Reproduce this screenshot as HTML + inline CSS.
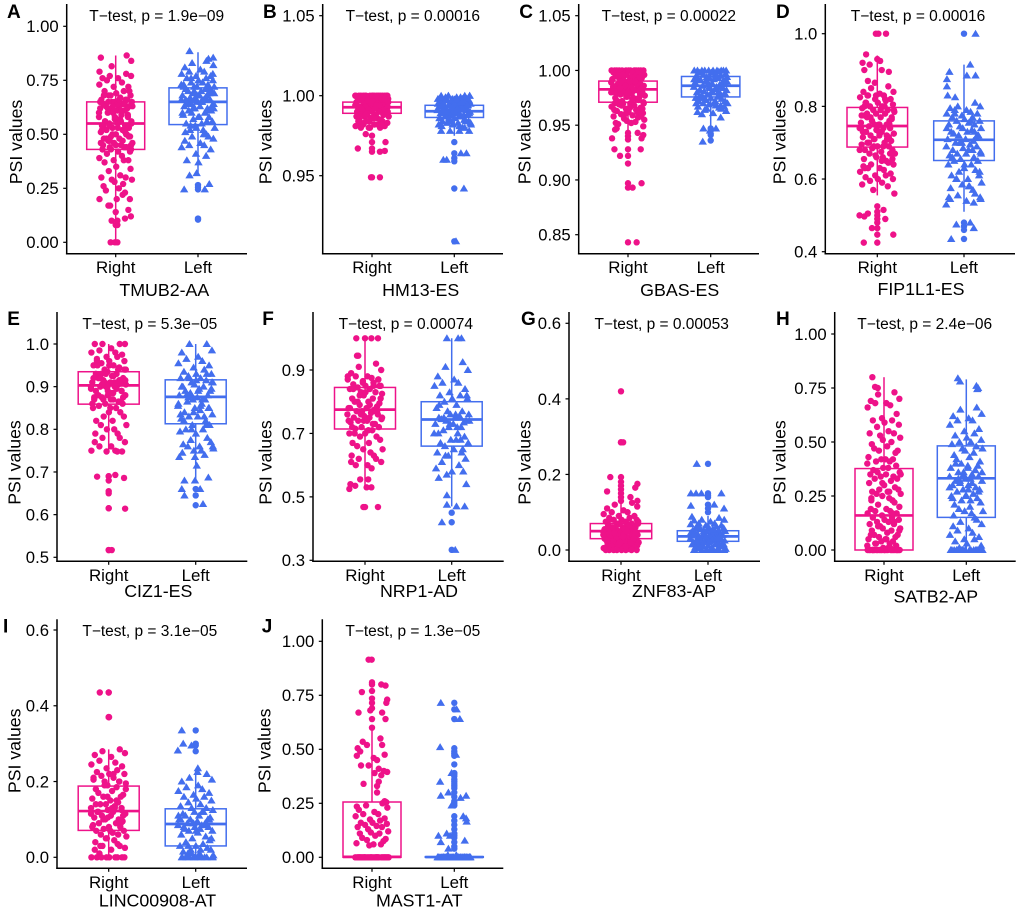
<!DOCTYPE html>
<html lang="en">
<head>
<meta charset="utf-8">
<title>PSI values by side</title>
<style>
html,body{margin:0;padding:0;background:#fff;}
#chart{display:block;width:1020px;height:911px;font-family:"Liberation Sans",sans-serif;}
</style>
</head>
<body>
<svg id="chart" xmlns="http://www.w3.org/2000/svg" width="1020" height="911" viewBox="0 0 1020 911"></svg>
<script>
const categories=['Right','Left'];
const jitterSeq=[.62,-.35,.91,-.78,.14,-.52,.37,-.97,.75,-.12,.48,-.66,.03,.88,-.41,.27,-.85,.59,-.23,.96,-.07,.44,-.72,.19,-.58,.81,-.30,.68,-.92,.09,.53,-.16,-.47,.34,-.99,.72,-.05,.25,-.63,.93,-.38,.12,-.81,.56,-.19,.78,-.55,.41,-.88,.01,.65,-.28,.85,-.70,.22,-.44,.99,-.10,.31,-.75,.50];

const A_ticks=['0.00','0.25','0.50','0.75','1.00'];
const A_right_box=[0,.43,.55,.65,.865];
const A_left_box=[.32,.545,.65,.715,.88];
const A_right_values=[.78,.77,.77,.76,.76,.75,.74,.73,.72,.72,.70,.70,.69,.68,.68,.67,.66,.66,.65,.65,.65,.64,.64,.63,.63,.63,.62,.62,.62,.61,.61,.60,.60,.59,.58,.58,.57,.57,.56,.56,.55,.55,.54,.54,.53,.53,.52,.52,.51,.50,.50,.49,.49,.48,.48,.47,.46,.46,.45,.45,.44,.44,.44,.43,.43,.42,.41,.40,.39,.38,.38,.38,.37,.35,.34,.33,.31,.30,.30,.29,.29,.28,.27,.26,.25,.24,.70,.68,.66,.65,.64,.64,.63,.62,.61,.60,.59,.58,.57,.56,.55,.54,.53,.52,.51,.50,.49,.48,.47,.46,.45,.44,.43,.42,.68,.66,.65,.63,.61,.56,.54,.52,.50,.47,.45,.43];
const A_right_pinned=[[-.88,.855],[.65,.865],[.92,.84],[-.96,.79],[-.24,.815],[-.96,.2],[.06,.2],[.41,.22],[.55,.23],[.84,.2],[-.33,.17],[-.43,.17],[.75,.15],[0,.14],[.9,.12],[.55,.11],[-.24,.1],[.1,.1],[0,.08],[.1,.08],[-.3,0],[-.04,0],[.1,0]];
const A_right_outliers=[];
const A_left_values=[.85,.83,.82,.81,.80,.79,.79,.78,.77,.77,.76,.76,.75,.75,.74,.74,.73,.73,.72,.72,.72,.71,.71,.70,.70,.70,.69,.69,.68,.68,.68,.67,.67,.66,.66,.66,.65,.65,.65,.64,.64,.63,.63,.62,.62,.61,.61,.60,.59,.58,.58,.57,.56,.55,.55,.54,.53,.53,.52,.51,.50,.49,.49,.48,.47,.46,.45,.45,.44,.43,.41,.40,.38,.37,.78,.76,.74,.72,.71,.70,.69,.68,.67,.66,.65,.64,.63,.62,.61,.60,.58,.56,.54,.52,.50,.73,.70,.68,.66,.64,.62,.60];
const A_left_pinned=[[-.5,.885],[.9,.855],[.5,.84],[-.82,.245],[-.5,.31],[.67,.27],[.4,.245],[-.08,.32]];
const A_left_outliers=[.265,.255,.245,.11,.105];

const B_ticks=['0.95','1.00','1.05'];
const B_right_box=[.98,.989,.9928,.996,1];
const B_left_box=[.975,.9864,.9903,.994,1];
const B_right_values=[1,1,1,1,1,1,1,1,1,1,1,1,1,1,.999,.999,.999,.999,.998,.998,.998,.998,.997,.997,.997,.997,.996,.996,.996,.996,.995,.995,.995,.995,.994,.994,.994,.993,.993,.993,.993,.992,.992,.992,.991,.991,.991,.99,.99,.99,.989,.989,.989,.988,.988,.987,.987,.986,.986,.985,.985,.984,.984,.983,.983,.982,.982,.982,.981,.981,.98,.98,.98,1,1,1,1,.999,.998,.997,.996,.995,.994,.993,.992,.991,.99,.989,.988,.987,.986,.985,.984,.983,.982,1,.998,.996,.994,.992,.99,.988,.986,.984,.982,.98];
const B_right_pinned=[[-.37,.976],[0,.975],[0,.971],[.8,.971],[-.84,.967],[0,.967],[0,.965],[.47,.965],[.76,.9655],[0,.949],[-.06,.949],[.47,.949]];
const B_right_outliers=[];
const B_left_values=[1,1,1,1,.999,.999,.999,.998,.998,.998,.998,.997,.997,.997,.997,.996,.996,.996,.996,.995,.995,.995,.995,.994,.994,.994,.994,.993,.993,.993,.992,.992,.992,.992,.991,.991,.991,.99,.99,.99,.989,.989,.989,.988,.988,.988,.987,.987,.986,.986,.985,.985,.984,.984,.983,.983,.982,.982,.981,.981,.98,.98,1,1,.999,.998,.997,.996,.995,.994,.993,.992,.991,.99,.989,.988,.987,.986,.985,.984,.983,.982,.996,.994,.992,.99,.988,.986,.984,.982];
const B_left_pinned=[[-.78,.978],[-.25,.978],[.3,.978],[.88,.978],[-.65,.96],[-.45,.96],[.39,.964],[.72,.964],[.57,.942],[.1,.909]];
const B_left_outliers=[.971,.964,.961,.959,.942,.909];

const C_ticks=['0.85','0.90','0.95','1.00','1.05'];
const C_right_box=[.943,.971,.9827,.9903,1];
const C_left_box=[.948,.9758,.986,.9945,1];
const C_right_values=[1,1,1,1,1,1,1,1,1,1,1,1,1,.999,.999,.998,.998,.997,.997,.996,.996,.995,.995,.994,.994,.993,.993,.992,.992,.991,.991,.99,.99,.989,.989,.988,.988,.987,.987,.986,.986,.985,.985,.984,.984,.983,.983,.982,.982,.981,.981,.98,.98,.979,.979,.978,.977,.976,.975,.975,.974,.973,.972,.971,.97,.97,.969,.968,.967,.966,.965,.964,.963,.962,.961,.96,.959,.958,.957,.956,.955,.954,.953,.952,.952,.951,.998,.996,.994,.992,.99,.988,.986,.984,.982,.98,.978,.976,.974,.972,.97,.968,.966,.964,.962,.96,.958,.995,.99,.985,.98,.975,.97,.965];
const C_right_pinned=[[.9,.949],[-.67,.947],[-.76,.946],[.57,.943],[.9,.941],[.8,.938],[-.94,.938],[-.8,.928],[.75,.928],[-.47,.922],[.8,.897],[.27,.893],[.51,.843]];
const C_right_outliers=[.943,.94,.937,.928,.922,.915,.897,.893,.843];
const C_left_values=[1,1,1,1,1,1,1,1,1,1,.999,.998,.998,.997,.996,.996,.995,.995,.994,.994,.993,.993,.992,.992,.991,.99,.99,.989,.989,.988,.987,.987,.986,.985,.985,.984,.984,.983,.982,.982,.981,.98,.98,.979,.978,.978,.977,.976,.975,.975,.974,.973,.972,.972,.971,.97,.97,.969,.968,.967,.966,.965,.964,.963,.962,.961,.96,.995,.992,.99,.988,.985,.982,.98,.978,.975,.972,.97,.968,.965,.99,.985,.98,.975,.97];
const C_left_pinned=[[-.43,.947],[.31,.947],[-.47,.935],[.59,.957],[.8,.967],[-.04,.945]];
const C_left_outliers=[.947,.945,.941,.936];

const D_ticks=['0.4','0.6','0.8','1.0'];
const D_right_box=[.555,.688,.746,.797,.94];
const D_left_box=[.51,.651,.708,.76,.915];
const D_right_values=[.855,.85,.84,.84,.835,.83,.83,.825,.82,.82,.815,.81,.81,.805,.80,.80,.795,.79,.79,.785,.78,.78,.775,.77,.77,.765,.76,.76,.755,.75,.75,.75,.745,.74,.74,.74,.735,.73,.73,.725,.72,.72,.715,.71,.71,.705,.70,.70,.695,.69,.69,.685,.68,.68,.675,.67,.67,.665,.66,.655,.65,.645,.64,.64,.635,.63,.63,.625,.62,.615,.61,.61,.605,.60,.60,.595,.59,.585,.58,.57,.56,.83,.82,.80,.79,.78,.77,.76,.75,.74,.73,.72,.71,.70,.69,.68,.67,.66,.65,.81,.79,.77,.75,.73,.71,.69,.67,.83,.80,.775,.745,.715,.685,.655,.63];
const D_right_pinned=[[.49,1],[-.08,1],[.06,1],[-.63,.943],[-.83,.92],[-.43,.915],[0,.93],[.16,.925],[-.73,.90],[.25,.90],[.65,.895],[-.53,.87],[-.14,.865],[-.73,.497],[-1,.5],[.35,.515],[.45,.49],[.9,.447],[-.76,.425],[-.3,.465],[-.53,.505]];
const D_right_outliers=[.525,.51,.50,.49,.48,.465,.447,.425];
const D_left_values=[.81,.80,.80,.795,.79,.79,.785,.78,.78,.775,.77,.77,.765,.76,.76,.755,.75,.75,.745,.74,.74,.735,.73,.73,.725,.72,.72,.715,.71,.71,.705,.70,.70,.695,.69,.69,.685,.68,.68,.675,.67,.67,.665,.66,.655,.65,.65,.64,.64,.63,.625,.62,.61,.61,.60,.60,.59,.585,.58,.575,.57,.56,.555,.55,.545,.54,.78,.76,.74,.72,.70,.68,.66,.64,.62,.60,.58,.55,.73,.70,.67];
const D_left_pinned=[[.65,1],[-.82,.895],[.35,.915],[.65,.885],[-.96,.875],[-.96,.855],[-.92,.83],[-.5,.825],[.16,.885],[-1,.53],[.94,.545],[.55,.535],[-.72,.435],[-.43,.475],[.35,.48],[.55,.465]];
const D_left_outliers=[1,.48,.47,.46,.435];

const E_ticks=['0.5','0.6','0.7','0.8','0.9','1.0'];
const E_right_box=[.748,.859,.903,.935,1];
const E_left_box=[.68,.813,.876,.916,1];
const E_right_values=[1,1,1,1,.99,.985,.98,.98,.975,.97,.97,.965,.96,.96,.955,.95,.95,.945,.94,.94,.935,.93,.93,.925,.92,.92,.915,.91,.91,.91,.905,.90,.90,.90,.895,.89,.89,.885,.88,.88,.875,.87,.87,.865,.86,.86,.855,.85,.85,.84,.84,.83,.83,.82,.82,.81,.81,.80,.80,.79,.79,.78,.78,.77,.77,.76,.76,.75,.75,.748,.748,.748,.96,.95,.94,.93,.925,.92,.915,.91,.905,.90,.895,.89,.885,.88,.875,.87,.865,.86,.85,.94,.93,.92,.91,.90,.89,.88,.87,.95,.915,.905,.885,.875,.865];
const E_right_pinned=[[-.65,.689],[.37,.693],[.86,.686],[.92,.614],[.17,.517]];
const E_right_outliers=[.69,.69,.68,.655,.65,.615,.615,.517,.517];
const E_left_values=[1,1,.985,.98,.97,.965,.96,.955,.95,.945,.94,.935,.93,.93,.925,.92,.92,.915,.91,.91,.905,.90,.90,.895,.89,.89,.885,.88,.88,.875,.87,.87,.865,.86,.855,.85,.85,.845,.84,.835,.83,.83,.825,.82,.81,.81,.80,.80,.795,.79,.78,.775,.77,.765,.76,.76,.755,.75,.75,.745,.74,.93,.92,.91,.90,.89,.88,.87,.86,.85,.84,.83,.82,.915,.895,.875,.855,.835,.81,.80,.76];
const E_left_pinned=[[-.63,.68],[.71,.687],[-.04,.68],[-.78,.66],[.25,.66],[-.63,.645],[.41,.625],[-.92,.735],[.06,.715],[-.04,.735]];
const E_left_outliers=[.66,.645,.622];

const F_ticks=['0.3','0.5','0.7','0.9'];
const F_right_box=[.525,.714,.775,.845,1];
const F_left_box=[.47,.66,.744,.80,1];
const F_right_values=[.92,.91,.90,.89,.88,.88,.875,.87,.87,.865,.86,.855,.85,.85,.845,.84,.84,.83,.83,.825,.82,.81,.81,.80,.80,.795,.79,.785,.78,.78,.775,.77,.77,.765,.76,.76,.755,.75,.75,.745,.74,.74,.735,.73,.72,.72,.715,.71,.70,.70,.69,.69,.68,.67,.67,.66,.65,.65,.64,.63,.63,.62,.62,.61,.61,.60,.60,.59,.88,.87,.86,.85,.84,.83,.81,.80,.79,.78,.77,.76,.75,.74,.73,.72,.71,.70,.85,.82,.77,.74];
const F_right_pinned=[[-.49,1],[0,1],[.36,1],[.73,1],[-.45,.945],[-.38,.945],[-.88,.525],[-.55,.535],[-.27,.555],[.18,.555],[.36,.53],[-.82,.54],[.09,.53],[.73,.468],[0,.468],[-.09,.468]];
const F_right_outliers=[];
const F_left_values=[.925,.91,.90,.88,.87,.86,.86,.85,.84,.83,.82,.82,.81,.81,.80,.79,.78,.77,.77,.76,.76,.755,.75,.75,.745,.74,.74,.735,.73,.73,.72,.72,.71,.70,.70,.69,.68,.68,.67,.67,.66,.65,.64,.64,.63,.62,.61,.60,.59,.58,.58,.57,.82,.79,.76,.75,.74,.73,.72,.70,.68,.65,.63];
const F_left_pinned=[[-.27,1],[.36,1],[.55,1],[-.73,.56],[.82,.54],[-.27,.505],[-.27,.475],[.27,.47],[.73,.47],[-.55,.42],[.2,.333]];
const F_left_outliers=[.45,.42,.333];

const G_ticks=['0.0','0.2','0.4','0.6'];
const G_right_box=[0,.03,.05,.07,.125];
const G_left_box=[0,.023,.036,.051,.09];
const G_right_values=[.125,.12,.115,.11,.105,.10,.10,.095,.09,.09,.085,.085,.08,.08,.08,.075,.075,.07,.07,.07,.068,.065,.065,.06,.06,.06,.058,.055,.055,.055,.05,.05,.05,.05,.048,.045,.045,.045,.042,.04,.04,.04,.04,.038,.035,.035,.035,.032,.03,.03,.03,.028,.025,.025,.025,.022,.02,.02,.02,.018,.015,.015,.015,.012,.01,.01,.01,.008,.005,.005,.005,.002,0,0,0,0,0,0,0,0,.075,.07,.065,.06,.055,.05,.045,.04,.035,.03,.025,.02,.015,.06,.05,.04,.03,.02,.01,.08,.07,.045,.035,.025];
const G_right_pinned=[[.12,.285],[-.6,.193],[-.78,.155],[.92,.175],[.8,.165],[.53,.14],[.92,.13]];
const G_right_outliers=[.42,.285,.285,.193,.18,.17,.16,.15,.14,.13];
const G_left_values=[.085,.08,.08,.078,.075,.07,.07,.068,.065,.065,.062,.06,.06,.058,.055,.055,.052,.05,.05,.05,.048,.045,.045,.045,.042,.04,.04,.04,.038,.036,.035,.035,.032,.03,.03,.03,.028,.026,.025,.025,.023,.022,.02,.02,.02,.018,.015,.015,.015,.012,.01,.01,.01,.008,.005,.005,.003,0,0,0,0,0,0,0,0,0,.06,.05,.045,.04,.035,.03,.025,.02,.015,.01,.055,.04,.03,.02];
const G_left_pinned=[[-.63,.228],[-.96,.15],[-.67,.15],[.75,.15],[.9,.11],[-.96,.117],[.35,.12],[-.9,.088],[-.37,.15]];
const G_left_outliers=[.228,.15,.145,.14,.12,.11,.10];

const H_ticks=['0.00','0.25','0.50','0.75','1.00'];
const H_right_box=[0,0,.16,.377,.80];
const H_left_box=[0,.151,.332,.482,.79];
const H_right_values=[.73,.72,.70,.69,.68,.68,.67,.66,.63,.61,.60,.60,.59,.58,.57,.55,.54,.54,.53,.52,.51,.50,.49,.48,.47,.46,.46,.45,.43,.42,.42,.42,.41,.41,.40,.39,.38,.38,.37,.36,.36,.35,.35,.34,.34,.33,.33,.32,.31,.30,.29,.28,.28,.27,.27,.26,.26,.25,.24,.24,.23,.22,.21,.20,.19,.19,.18,.18,.17,.17,.16,.15,.15,.14,.14,.13,.13,.12,.12,.11,.10,.10,.09,.09,.08,.07,.07,.06,.06,.05,.05,.04,.04,.03,.03,.02,.02,.01,.01,0,0,0,0,0,0,0,0,0,0,0,0,0,0,0,0,0,0,.35,.31,.27,.23,.17,.13,.11,.09,.07,.05,.03,.01,0,0,0,0,0,0];
const H_right_pinned=[[-.69,.80],[-.53,.755],[-.37,.75]];
const H_right_outliers=[];
const H_left_values=[.66,.65,.63,.62,.61,.60,.60,.58,.56,.55,.54,.53,.52,.51,.50,.50,.49,.48,.47,.47,.46,.45,.44,.43,.42,.41,.40,.39,.38,.38,.37,.36,.36,.35,.34,.34,.33,.33,.32,.32,.31,.30,.30,.29,.28,.28,.27,.26,.25,.25,.24,.23,.22,.21,.20,.19,.18,.18,.17,.16,.15,.14,.13,.12,.11,.10,.09,.08,.07,.06,.05,.05,.04,.03,.02,.01,0,0,0,0,0,0,0,0,0,0,0,0,0,0,.39,.37,.35,.33,.31,.29,.27,.25,.23,.40,.36,.32,.28,.24,0,0,0,0];
const H_left_pinned=[[-.5,.795],[-.37,.78],[.6,.76],[.7,.75],[.65,.745]];
const H_left_outliers=[];

const I_ticks=['0.0','0.2','0.4','0.6'];
const I_right_box=[0,.071,.122,.188,.285];
const I_left_box=[0,.03,.088,.128,.23];
const I_right_values=[.285,.28,.275,.27,.265,.255,.25,.245,.24,.235,.23,.225,.22,.22,.215,.21,.205,.20,.20,.195,.19,.185,.18,.175,.17,.165,.16,.16,.155,.15,.145,.14,.14,.135,.13,.13,.125,.12,.12,.115,.11,.11,.105,.10,.10,.095,.09,.09,.085,.08,.08,.075,.07,.07,.065,.06,.055,.05,.045,.04,.035,.03,.03,.025,.02,.02,.01,0,0,0,0,0,0,0,0,0,.22,.21,.20,.19,.18,.16,.15,.14,.13,.12,.11,.10,.09,.08,.07,.06,.05,.03,.13,.115,.125,.105];
const I_right_pinned=[[-.5,.435],[.02,.37]];
const I_right_outliers=[.435,.435,.37,.37];
const I_left_values=[.22,.21,.205,.20,.19,.185,.18,.175,.17,.165,.16,.16,.155,.15,.145,.14,.135,.13,.13,.125,.12,.12,.115,.11,.11,.105,.10,.10,.10,.095,.09,.09,.09,.085,.085,.08,.08,.075,.075,.07,.07,.065,.06,.055,.05,.045,.04,.035,.03,.03,.025,.02,.02,.015,.01,.01,.005,0,0,0,0,0,0,0,0,0,0,.12,.11,.10,.09,.085,.08,.07,.05,.03,.02,.10,.09,.01,0,0];
const I_left_pinned=[[-.78,.335],[-.7,.30],[-1,.282],[-.24,.295],[.12,.235],[.1,.225]];
const I_left_outliers=[.335,.30,.295,.28];

const J_ticks=['0.00','0.25','0.50','0.75','1.00'];
const J_right_box=[0,0,.002,.256,.60];
const J_left_box=[0,0,.001,.003,.003];
const J_right_values=[.25,.24,.23,.22,.21,.20,.20,.19,.18,.175,.17,.16,.16,.155,.15,.145,.14,.14,.13,.12,.115,.11,.11,.10,.09,.085,.08,.075,.065,.06,.06,.055,0,0,0,0,0,0,0,0,0,0,0,0,0,0,0,0,0,0,0,0,0,0,0,0,0,0,0,0];
const J_right_pinned=[[-.02,.915],[-.2,.915],[0,.81],[.0,.80],[.55,.80],[.8,.795],[.0,.77],[-.6,.765],[0,.735],[.9,.73],[0,.715],[.85,.715],[0,.69],[-.1,.68],[.6,.67],[-.8,.67],[0,.64],[.8,.64],[0,.60],[.5,.55],[-.55,.535],[-.3,.52],[.6,.52],[-.85,.505],[-.7,.49],[-.9,.47],[.1,.46],[.75,.475],[.3,.45],[-.65,.425],[-.2,.425],[.4,.41],[.7,.40],[.9,.395],[.15,.39],[.55,.38],[.4,.35],[.3,.33],[-.5,.34],[.3,.30],[.75,.26],[.85,.255],[-.9,.235]];
const J_right_outliers=[];
const J_left_values=[0,0,0,0,0,0,0,0,0,0,0,0,0,0,0,0,0,0,0,0,0,0,0,0,0,0,0,0,0,0,0,0,0,0,0,0,0,0,0,0,.01,.01];
const J_left_pinned=[[-.8,.715],[.14,.685],[.33,.64],[-.84,.51],[.1,.475],[-.84,.35],[-.16,.39],[-.8,.285],[-.35,.3],[.7,.285],[.37,.275],[-.16,.24],[.7,.18],[.53,.19],[.73,.165],[-.94,.1],[-.8,.07],[-.45,.11],[-.25,.1],[.62,.077],[-.35,.04]];
const J_left_outliers=[.715,.685,.64,.505,.49,.48,.47,.43,.39,.385,.375,.36,.35,.34,.33,.32,.30,.28,.26,.25,.24,.19,.17,.15,.13,.11,.10,.09,.07,.05,.04];

const seriesColors=['#EE1289','#436EEE'];
const seriesShapes=['circle','triangle'];
const jitterUnit=.205;

const panels=[
{key:'a',tag:'A',tagX:7,tagY:18,title:'T\u2212test, p = 1.9e\u221209',titleX:156.7,titleY:21,xTitle:'TMUB2-AA',xTitleX:164.3,xTitleY:296,labelY:273,yTitleX:22,yTitleY:142,axisX:66.7,axisEnd:247,axisY:253.7,axisTop:4,cx:[115.7,198],hw:29,calib:[0,242.3,1,26.3],ticks:A_ticks,box:[A_right_box,A_left_box],values:[A_right_values,A_left_values],pinned:[A_right_pinned,A_left_pinned],outliers:[A_right_outliers,A_left_outliers]},
{key:'b',tag:'B',tagX:263,tagY:18,title:'T\u2212test, p = 0.00016',titleX:412.8,titleY:21,xTitle:'HM13-ES',xTitleX:420.7,xTitleY:296,labelY:273,yTitleX:271.7,yTitleY:142,axisX:322.7,axisEnd:503,axisY:253.7,axisTop:4,cx:[372,454.3],hw:29.2,calib:[.95,175.7,1.05,15.7],ticks:B_ticks,box:[B_right_box,B_left_box],values:[B_right_values,B_left_values],pinned:[B_right_pinned,B_left_pinned],outliers:[B_right_outliers,B_left_outliers]},
{key:'c',tag:'C',tagX:519.3,tagY:18,title:'T\u2212test, p = 0.00022',titleX:668.8,titleY:21,xTitle:'GBAS-ES',xTitleX:679.7,xTitleY:296,labelY:273,yTitleX:530.7,yTitleY:142,axisX:578.7,axisEnd:759,axisY:253.7,axisTop:4,cx:[628,710.7],hw:29.2,calib:[.85,234.7,1.05,15.7],ticks:C_ticks,box:[C_right_box,C_left_box],values:[C_right_values,C_left_values],pinned:[C_right_pinned,C_left_pinned],outliers:[C_right_outliers,C_left_outliers]},
{key:'d',tag:'D',tagX:776,tagY:18,title:'T\u2212test, p = 0.00016',titleX:918,titleY:21,xTitle:'FIP1L1-ES',xTitleX:921,xTitleY:295,labelY:273,yTitleX:785.7,yTitleY:142,axisX:825.3,axisEnd:1015,axisY:253.7,axisTop:4,cx:[877.3,964],hw:30.3,calib:[.4,251.7,1,33.7],ticks:D_ticks,box:[D_right_box,D_left_box],values:[D_right_values,D_left_values],pinned:[D_right_pinned,D_left_pinned],outliers:[D_right_outliers,D_left_outliers]},
{key:'e',tag:'E',tagX:7.3,tagY:325,title:'T\u2212test, p = 5.3e\u221205',titleX:149.8,titleY:329,xTitle:'CIZ1-ES',xTitleX:158.3,xTitleY:597,labelY:581,yTitleX:20.7,yTitleY:462.5,axisX:57,axisEnd:247.3,axisY:561.3,axisTop:312,cx:[108.7,195.7],hw:30.5,calib:[.5,557.3,1,344],ticks:E_ticks,box:[E_right_box,E_left_box],values:[E_right_values,E_left_values],pinned:[E_right_pinned,E_left_pinned],outliers:[E_right_outliers,E_left_outliers]},
{key:'f',tag:'F',tagX:262.3,tagY:325,title:'T\u2212test, p = 0.00074',titleX:405.8,titleY:329,xTitle:'NRP1-AD',xTitleX:419,xTitleY:597,labelY:581,yTitleX:271.7,yTitleY:462.5,axisX:313,axisEnd:503.7,axisY:561.3,axisTop:312,cx:[365,451.7],hw:30.5,calib:[.3,560.3,.9,370],ticks:F_ticks,box:[F_right_box,F_left_box],values:[F_right_values,F_left_values],pinned:[F_right_pinned,F_left_pinned],outliers:[F_right_outliers,F_left_outliers]},
{key:'g',tag:'G',tagX:521,tagY:325,title:'T\u2212test, p = 0.00053',titleX:661.7,titleY:329,xTitle:'ZNF83-AP',xTitleX:674,xTitleY:597,labelY:581,yTitleX:530.7,yTitleY:462.5,axisX:569,axisEnd:760,axisY:561.3,axisTop:312,cx:[621,708],hw:30.7,calib:[0,550,.6,323.3],ticks:G_ticks,box:[G_right_box,G_left_box],values:[G_right_values,G_left_values],pinned:[G_right_pinned,G_left_pinned],outliers:[G_right_outliers,G_left_outliers]},
{key:'h',tag:'H',tagX:776,tagY:325,title:'T\u2212test, p = 2.4e\u221206',titleX:924.7,titleY:329,xTitle:'SATB2-AP',xTitleX:935.8,xTitleY:602.7,labelY:581,yTitleX:785.7,yTitleY:462.5,axisX:834.7,axisEnd:1015.7,axisY:561.3,axisTop:312,cx:[884,966.3],hw:29,calib:[0,550,1,334],ticks:H_ticks,box:[H_right_box,H_left_box],values:[H_right_values,H_left_values],pinned:[H_right_pinned,H_left_pinned],outliers:[H_right_outliers,H_left_outliers]},
{key:'i',tag:'I',tagX:3,tagY:632.7,title:'T\u2212test, p = 3.1e\u221205',titleX:149.8,titleY:636,xTitle:'LINC00908-AT',xTitleX:157.5,xTitleY:906.7,labelY:888,yTitleX:20.7,yTitleY:750.8,axisX:57,axisEnd:247,axisY:868.3,axisTop:619.3,cx:[108.7,195.7],hw:30.5,calib:[0,857.3,.6,630],ticks:I_ticks,box:[I_right_box,I_left_box],values:[I_right_values,I_left_values],pinned:[I_right_pinned,I_left_pinned],outliers:[I_right_outliers,I_left_outliers]},
{key:'j',tag:'J',tagX:261.7,tagY:632.7,title:'T\u2212test, p = 1.3e\u221205',titleX:412.8,titleY:636,xTitle:'MAST1-AT',xTitleX:419.3,xTitleY:906.7,labelY:888,yTitleX:270.7,yTitleY:750.8,axisX:322.3,axisEnd:503.3,axisY:868.3,axisTop:619.3,cx:[372,454.3],hw:29,calib:[0,857.3,1,641.3],ticks:J_ticks,box:[J_right_box,J_left_box],values:[J_right_values,J_left_values],pinned:[J_right_pinned,J_left_pinned],outliers:[J_right_outliers,J_left_outliers]}
];

const NS='http://www.w3.org/2000/svg';
const root=document.getElementById('chart');

function yScale(p){
  const v0=p.calib[0],px0=p.calib[1],v1=p.calib[2],px1=p.calib[3];
  return function(v){return px0+(v-v0)*(px1-px0)/(v1-v0);};
}
function xScale(p){
  const band=p.cx[1]-p.cx[0];
  return function(catIndex,jitter){return p.cx[catIndex]+jitter*jitterUnit*band;};
}
function make(parent,tag){
  const el=document.createElementNS(NS,tag);
  parent.appendChild(el);
  return el;
}
function line(parent,x1,y1,x2,y2,stroke,width){
  const el=make(parent,'line');
  el.setAttribute('x1',x1);
  el.setAttribute('y1',y1);
  el.setAttribute('x2',x2);
  el.setAttribute('y2',y2);
  el.setAttribute('stroke',stroke);
  el.setAttribute('stroke-width',width);
  return el;
}
function label(parent,str,x,y,size,anchor,weight){
  const el=make(parent,'text');
  el.setAttribute('x',x);
  el.setAttribute('y',y);
  el.setAttribute('font-size',size);
  el.setAttribute('text-anchor',anchor);
  if(weight){el.setAttribute('font-weight',weight);}
  el.textContent=str;
  return el;
}
function mark(parent,shape,x,y,color){
  if(shape==='circle'){
    const c=make(parent,'circle');
    c.setAttribute('cx',x.toFixed(2));
    c.setAttribute('cy',y.toFixed(2));
    c.setAttribute('r',3.2);
    c.setAttribute('fill',color);
    return c;
  }
  const t=make(parent,'polygon');
  t.setAttribute('points',x.toFixed(2)+','+(y-4).toFixed(2)+' '+(x+4.2).toFixed(2)+','+(y+3).toFixed(2)+' '+(x-4.2).toFixed(2)+','+(y+3).toFixed(2));
  t.setAttribute('fill',color);
  return t;
}

panels.forEach(function(p){
  const y=yScale(p);
  const x=xScale(p);
  const g=make(root,'g');
  
  

  categories.forEach(function(cat,ci){
    const color=seriesColors[ci];
    const shape=seriesShapes[ci];
    const s=make(g,'g');
    
    

    const b=p.box[ci];
    const cx=x(ci,0);
    const whisker=make(s,'path');
    whisker.setAttribute('d','M'+cx+' '+y(b[1])+'V'+y(b[0])+'M'+cx+' '+y(b[3])+'V'+y(b[4]));
    whisker.setAttribute('stroke',color);
    whisker.setAttribute('stroke-width',1.5);
    whisker.setAttribute('fill','none');
    
    

    const rect=make(s,'rect');
    rect.setAttribute('x',cx-p.hw);
    rect.setAttribute('y',y(b[3]));
    rect.setAttribute('width',p.hw*2);
    rect.setAttribute('height',Math.max(y(b[1])-y(b[3]),.2));
    rect.setAttribute('fill','none');
    rect.setAttribute('stroke',color);
    rect.setAttribute('stroke-width',1.5);
    
    

    const med=line(s,cx-p.hw,y(b[2]),cx+p.hw,y(b[2]),color,2.7);
    
    

    p.outliers[ci].forEach(function(v){
      const o=mark(s,'circle',cx,y(v),color);
      
      
    });
    p.values[ci].forEach(function(v,i){
      const d=mark(s,shape,x(ci,jitterSeq[i%jitterSeq.length]),y(v),color);
      
      
    });
    p.pinned[ci].forEach(function(pt){
      const d=mark(s,shape,x(ci,pt[0]),y(pt[1]),color);
      
      
    });

    const tick=line(g,cx,p.axisY,cx,p.axisY+3.5,'#000',1.2);
    
    
    const tl=label(g,cat,cx,p.labelY,16.9,'middle');
    
    
  });

  const yAxis=line(g,p.axisX,p.axisTop,p.axisX,p.axisY+.75,'#000',1.5);
  
  
  const xAxis=line(g,p.axisX-.75,p.axisY,p.axisEnd,p.axisY,'#000',1.5);
  
  

  p.ticks.forEach(function(t){
    const py=y(parseFloat(t));
    const tk=line(g,p.axisX-3.5,py,p.axisX,py,'#000',1.2);
    
    
    const tl=label(g,t,p.axisX-8,py+5.9,16.7,'end');
    
    
  });

  const yt=label(g,'PSI values',0,0,17.7,'middle');
  yt.setAttribute('transform','translate('+p.yTitleX+','+p.yTitleY+') rotate(-90)');
  
  

  const xt=label(g,p.xTitle,p.xTitleX,p.xTitleY,17.8,'middle');
  
  

  const ttl=label(g,p.title,p.titleX,p.titleY,15.5,'middle');
  
  

  const tg=label(g,p.tag,p.tagX,p.tagY,19,'start','bold');
  
  
});
</script>
</body>
</html>
